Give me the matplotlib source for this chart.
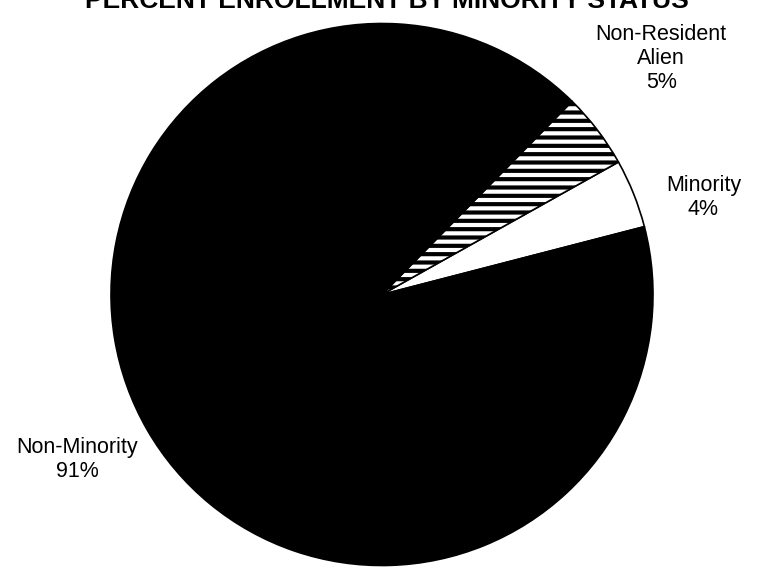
import matplotlib
matplotlib.use('Agg')
import matplotlib.pyplot as plt

# enrollment shares (percent)
categories = ['Minority', 'Non-Resident\nAlien', 'Non-Minority']
shares = [4.1, 4.5, 91.4]
pct_labels = ['4%', '5%', '91%']

plt.rcParams['font.family'] = ['Liberation Sans', 'DejaVu Sans']
plt.rcParams['hatch.linewidth'] = 3.0
plt.rcParams['hatch.color'] = 'black'

fig = plt.figure(figsize=(7.6, 5.67), dpi=100)
ax = fig.add_axes([0, 0, 1, 1])

wedges, _ = ax.pie(shares, startangle=14.5, counterclock=True,
                   colors=['white', 'white', 'black'],
                   wedgeprops=dict(edgecolor='black', linewidth=1.2))
wedges[1].set_hatch('--')

# map so the pie sits where the original does (radius ~271 px)
ax.set_xlim(-382 / 271, 378 / 271)
ax.set_ylim(-272.5 / 271, 294.5 / 271)
ax.set_aspect('auto')
ax.axis('off')

# label positions, excel style
label_pos = [(1.186, 0.358), (1.03, 0.87), (-1.125, -0.608)]
for name, pct, (lx, ly) in zip(categories, pct_labels, label_pos):
    ax.text(lx, ly, name + '\n' + pct, ha='center', va='center',
            fontsize=15.5, linespacing=1.2)

# title runs off the top edge, as in the original
fig.text(387 / 760, 1 - 8 / 567, 'PERCENT ENROLLMENT BY MINORITY STATUS',
         ha='center', va='baseline', fontsize=19, fontweight='bold')

fig.savefig('out.png', dpi=100)
